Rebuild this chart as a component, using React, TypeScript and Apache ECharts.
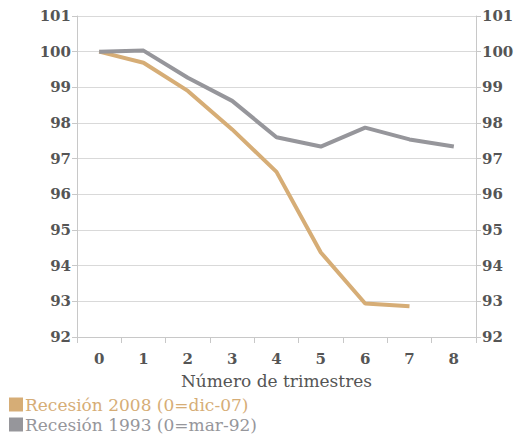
import React, { useEffect, useRef } from "react";
import * as echarts from "echarts";

const categories = ["0", "1", "2", "3", "4", "5", "6", "7", "8"];
const recesion2008 = [100, 99.69, 98.9, 97.82, 96.63, 94.37, 92.94, 92.86];
const recesion1993 = [100, 100.03, 99.27, 98.62, 97.6, 97.34, 97.87, 97.54, 97.34];
const seriesNames = ["Recesión 2008 (0=dic-07)", "Recesión 1993 (0=mar-92)"];
const xAxisTitle = "Número de trimestres";

const FONT = "DejaVu Serif";
const LABEL_COLOR = "#555555";
const TAN = "#d6ad76";
const GRAY = "#96969b";

export default function App() {
  const ref = useRef<HTMLDivElement>(null);
  useEffect(() => {
    const chart = echarts.init(ref.current!, null, { renderer: "svg" });
    const yAxisBase = {
      type: "value" as const,
      min: 92,
      max: 101,
      interval: 1,
      axisLine: { show: true, lineStyle: { color: "#c8c8c8", width: 1 } },
      axisTick: { show: true, length: 5, lineStyle: { color: "#c8c8c8" } },
      splitLine: { show: true, lineStyle: { color: "#d9d9d9", width: 1 } },
      axisLabel: {
        color: LABEL_COLOR,
        fontFamily: FONT,
        fontSize: 15,
        fontWeight: "bold" as const,
        margin: 6,
      },
    };
    const legendBase = {
      orient: "horizontal" as const,
      left: 9,
      padding: 0,
      itemWidth: 14,
      itemHeight: 14,
      icon: "rect",
      textStyle: { fontFamily: FONT, fontSize: 17, padding: [0, 0, 0, -3] },
    };
    chart.setOption({
      animation: false,
      backgroundColor: "#ffffff",
      textStyle: { fontFamily: FONT },
      grid: { left: 77, right: 42, top: 16, bottom: 102, containLabel: false },
      legend: [
        {
          ...legendBase,
          top: 396,
          data: [{ name: seriesNames[0], textStyle: { color: TAN } }],
        },
        {
          ...legendBase,
          top: 416,
          data: [{ name: seriesNames[1], textStyle: { color: GRAY } }],
        },
      ],
      xAxis: {
        type: "category",
        data: categories,
        boundaryGap: true,
        name: xAxisTitle,
        nameLocation: "middle",
        nameGap: 35,
        nameTextStyle: { color: LABEL_COLOR, fontFamily: FONT, fontSize: 17, fontWeight: 500 },
        axisLine: { show: true, lineStyle: { color: "#c8c8c8" } },
        axisTick: { show: true, length: 6, alignWithLabel: false, lineStyle: { color: "#c8c8c8" } },
        axisLabel: {
          color: LABEL_COLOR,
          fontFamily: FONT,
          fontSize: 15,
          fontWeight: "bold",
          margin: 14,
        },
      },
      yAxis: [
        { ...yAxisBase, position: "left" },
        { ...yAxisBase, position: "right", splitLine: { show: false } },
      ],
      series: [
        {
          name: seriesNames[0],
          type: "line",
          data: recesion2008,
          yAxisIndex: 0,
          symbol: "none",
          lineStyle: { color: TAN, width: 4 },
          itemStyle: { color: TAN },
        },
        {
          name: seriesNames[1],
          type: "line",
          data: recesion1993,
          yAxisIndex: 0,
          symbol: "none",
          lineStyle: { color: GRAY, width: 4 },
          itemStyle: { color: GRAY },
        },
      ],
    });
    return () => chart.dispose();
  }, []);
  return <div ref={ref} style={{ width: 518, height: 439, position: "absolute", left: 0, top: 0 }} />;
}
